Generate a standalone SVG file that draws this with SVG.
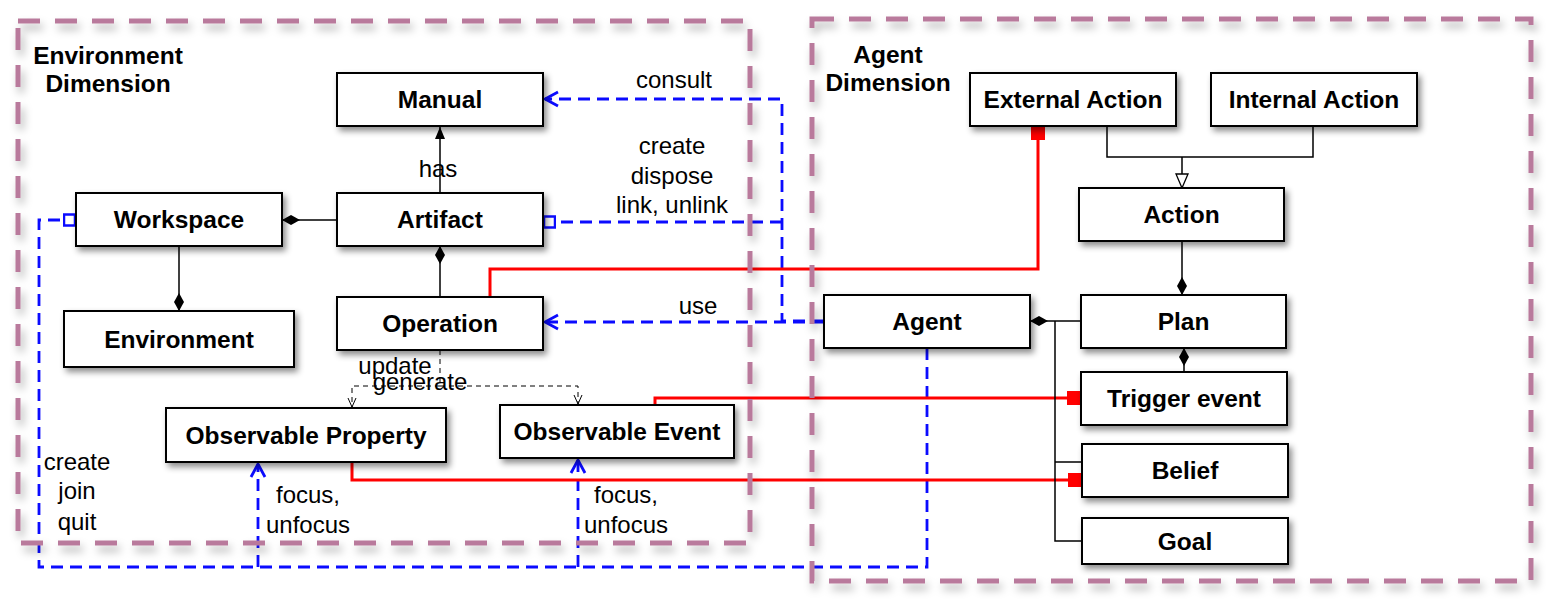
<svg xmlns="http://www.w3.org/2000/svg" width="1553" height="601" viewBox="0 0 1553 601">
<style>
.box{fill:#fff;stroke:#000;stroke-width:2}
.nt{font-family:"Liberation Sans",Arial,sans-serif;font-weight:bold;font-size:24.5px;text-anchor:middle;fill:#000}
.lb{font-family:"Liberation Sans",Arial,sans-serif;font-size:24px;text-anchor:middle;fill:#000}
.dim{fill:none;stroke:#b97a9c;stroke-width:5;stroke-dasharray:22 15}
.blk{fill:none;stroke:#000;stroke-width:1.5}
.bdash{fill:none;stroke:#000;stroke-width:1;stroke-dasharray:5 4}
.blue{fill:none;stroke:#0b0bff;stroke-width:2.8;stroke-dasharray:12 7}
.red{fill:none;stroke:#ff0000;stroke-width:3}
</style>
<defs>
<filter id="sh" x="-10%" y="-20%" width="130%" height="160%">
<feDropShadow dx="3" dy="4" stdDeviation="3" flood-color="#000" flood-opacity="0.45"/>
</filter>
<filter id="sh2" x="-5%" y="-5%" width="110%" height="110%">
<feDropShadow dx="3" dy="6" stdDeviation="4" flood-color="#000" flood-opacity="0.3"/>
</filter>
<marker id="dia" markerUnits="userSpaceOnUse" viewBox="0 -6 18 12" refX="18" refY="0" markerWidth="18" markerHeight="12" orient="auto">
<path d="M0,0 L9,-5 L18,0 L9,5 Z" fill="#000"/>
</marker>
<marker id="tri" markerUnits="userSpaceOnUse" viewBox="0 -5 12 10" refX="12" refY="0" markerWidth="12" markerHeight="10" orient="auto">
<path d="M0,-5 L12,0 L0,5 Z" fill="#000"/>
</marker>
<marker id="htri" markerUnits="userSpaceOnUse" viewBox="-1 -7 16 14" refX="14" refY="0" markerWidth="16" markerHeight="14" orient="auto">
<path d="M0,-6 L14,0 L0,6 Z" fill="#fff" stroke="#000" stroke-width="1.3"/>
</marker>
<marker id="vb" markerUnits="userSpaceOnUse" viewBox="-2 -9 16 18" refX="13" refY="0" markerWidth="16" markerHeight="18" orient="auto">
<path d="M0,-7 L13,0 L0,7" fill="none" stroke="#0b0bff" stroke-width="2.8"/>
</marker>
<marker id="vk" markerUnits="userSpaceOnUse" viewBox="-1 -5 11 10" refX="9" refY="0" markerWidth="11" markerHeight="10" orient="auto">
<path d="M0,-4 L9,0 L0,4" fill="none" stroke="#000" stroke-width="1"/>
</marker>
<marker id="sqb" markerUnits="userSpaceOnUse" viewBox="-1 -7 14 14" refX="12" refY="0" markerWidth="14" markerHeight="14" orient="auto">
<rect x="0" y="-5.5" width="11" height="11" fill="#fff" stroke="#0b0bff" stroke-width="2.5"/>
</marker>
<marker id="sqr" markerUnits="userSpaceOnUse" viewBox="0 -7 14 14" refX="14" refY="0" markerWidth="14" markerHeight="14" orient="auto">
<rect x="0" y="-7" width="14" height="14" fill="#ff0000"/>
</marker>
</defs>
<rect width="1553" height="601" fill="#fff"/>

<g id="connectors">
<path class="blk" d="M440,193 V127" marker-end="url(#tri)"/>
<path class="blk" d="M337,220 H282" marker-end="url(#dia)"/>
<path class="blk" d="M440,297 V246" marker-end="url(#dia)"/>
<path class="blk" d="M179,246 V311" marker-end="url(#dia)"/>
<path class="bdash" d="M440,350 V386 H352 V407" marker-end="url(#vk)"/>
<path class="bdash" d="M440,386 H578 V404" marker-end="url(#vk)"/>
<path class="blue" d="M824,321 H782 V99 H545" marker-end="url(#vb)"/>
<path class="blue" d="M782,222 H543" marker-end="url(#sqb)"/>
<path class="blue" d="M824,322 H545" marker-end="url(#vb)"/>
<path class="blue" d="M927,348 V567 H39 V220 H76" marker-end="url(#sqb)"/>
<path class="blue" d="M258,567 V464" marker-end="url(#vb)"/>
<path class="blue" d="M578,567 V460" marker-end="url(#vb)"/>
<path class="red" d="M490,297 V269 H1038 V126" marker-end="url(#sqr)"/>
<path class="red" d="M655,405 V398 H1081" marker-end="url(#sqr)"/>
<path class="red" d="M352,462 V480 H1082" marker-end="url(#sqr)"/>
<path class="blk" d="M1107,126 V157 H1313 V126"/>
<path class="blk" d="M1182,157 V188" marker-end="url(#htri)"/>
<path class="blk" d="M1182,241 V295" marker-end="url(#dia)"/>
<path class="blk" d="M1184,372 V348" marker-end="url(#dia)"/>
<path class="blk" d="M1081,321 H1030" marker-end="url(#dia)"/>
<path class="blk" d="M1055,321 V541 H1082 M1055,462 H1082"/>
</g>

<g id="env-dimension">
<rect class="dim" x="18" y="21" width="732" height="522" filter="url(#sh2)"/>
<text class="nt" x="108" y="64">Environment</text>
<text class="nt" x="108" y="92">Dimension</text>
</g>
<g id="agent-dimension">
<rect class="dim" x="812" y="19" width="719" height="562" filter="url(#sh2)"/>
<text class="nt" x="888" y="63">Agent</text>
<text class="nt" x="888" y="91">Dimension</text>
</g>

<g id="manual"><rect class="box" x="337" y="73" width="206" height="53" filter="url(#sh)"/><text class="nt" x="440" y="108">Manual</text></g>
<g id="artifact"><rect class="box" x="337" y="193" width="206" height="53" filter="url(#sh)"/><text class="nt" x="440" y="228">Artifact</text></g>
<g id="operation"><rect class="box" x="337" y="297" width="206" height="53" filter="url(#sh)"/><text class="nt" x="440" y="332">Operation</text></g>
<g id="workspace"><rect class="box" x="76" y="193" width="206" height="53" filter="url(#sh)"/><text class="nt" x="179" y="228">Workspace</text></g>
<g id="environment"><rect class="box" x="64" y="311" width="230" height="56" filter="url(#sh)"/><text class="nt" x="179" y="348">Environment</text></g>
<g id="observable-property"><rect class="box" x="166" y="408" width="280" height="54" filter="url(#sh)"/><text class="nt" x="306" y="444">Observable Property</text></g>
<g id="observable-event"><rect class="box" x="500" y="405" width="234" height="53" filter="url(#sh)"/><text class="nt" x="617" y="440">Observable Event</text></g>
<g id="external-action"><rect class="box" x="970" y="73" width="206" height="53" filter="url(#sh)"/><text class="nt" x="1073" y="108">External Action</text></g>
<g id="internal-action"><rect class="box" x="1211" y="73" width="206" height="53" filter="url(#sh)"/><text class="nt" x="1314" y="108">Internal Action</text></g>
<g id="action"><rect class="box" x="1079" y="188" width="205" height="53" filter="url(#sh)"/><text class="nt" x="1181.5" y="223">Action</text></g>
<g id="agent"><rect class="box" x="824" y="295" width="206" height="53" filter="url(#sh)"/><text class="nt" x="927" y="330">Agent</text></g>
<g id="plan"><rect class="box" x="1081" y="295" width="205" height="53" filter="url(#sh)"/><text class="nt" x="1183.5" y="330">Plan</text></g>
<g id="trigger-event"><rect class="box" x="1081" y="372" width="206" height="53" filter="url(#sh)"/><text class="nt" x="1184" y="407">Trigger event</text></g>
<g id="belief"><rect class="box" x="1082" y="444" width="206" height="53" filter="url(#sh)"/><text class="nt" x="1185" y="479">Belief</text></g>
<g id="goal"><rect class="box" x="1082" y="518" width="206" height="46" filter="url(#sh)"/><text class="nt" x="1185" y="550">Goal</text></g>

<g id="labels">
<text class="lb" x="438" y="177">has</text>
<text class="lb" x="674" y="88">consult</text>
<text class="lb" x="672" y="154">create</text>
<text class="lb" x="672" y="184">dispose</text>
<text class="lb" x="672" y="213">link, unlink</text>
<text class="lb" x="698" y="314">use</text>
<text class="lb" x="395" y="374">update</text>
<text class="lb" x="420" y="390">generate</text>
<text class="lb" x="77" y="470">create</text>
<text class="lb" x="77" y="499">join</text>
<text class="lb" x="77" y="530">quit</text>
<text class="lb" x="308" y="503">focus,</text>
<text class="lb" x="308" y="533">unfocus</text>
<text class="lb" x="626" y="503">focus,</text>
<text class="lb" x="626" y="533">unfocus</text>
</g>
</svg>
